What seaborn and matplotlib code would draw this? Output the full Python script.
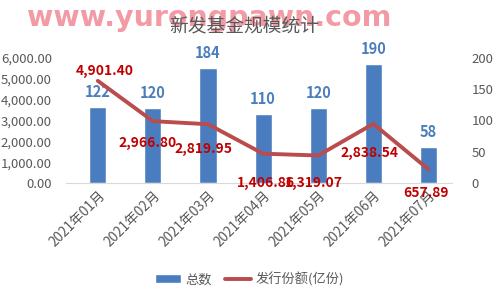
import matplotlib
matplotlib.use("Agg")
import matplotlib.pyplot as plt
import seaborn as sns
import pandas as pd
from matplotlib.ticker import FuncFormatter
from matplotlib.patches import Patch
from matplotlib.lines import Line2D

months = ["2021年01月", "2021年02月", "2021年03月", "2021年04月", "2021年05月", "2021年06月", "2021年07月"]
counts = [122, 120, 184, 110, 120, 190, 58]
shares = [4901.40, 2966.80, 2819.95, 1406.86, 1319.07, 2838.54, 657.89]

sns.set_style("white")
plt.rcParams['font.family'] = ['Noto Sans CJK SC', 'DejaVu Sans']

df = pd.DataFrame({"month": months, "count": counts, "share": shares})

fig = plt.figure(figsize=(4.99, 3.05), dpi=100)
ax = fig.add_axes([0.132, 0.40, 0.774, 0.41])

bar_color = "#4a7dbf"
line_color = "#b94c4c"
gray = "#595959"

sns.barplot(data=df, x="month", y="count", color=bar_color, width=0.31, ax=ax, saturation=1)
ax.set_ylim(0, 200)
ax.set_yticks([0, 50, 100, 150, 200])
ax.set_xlim(-0.58, 6.43)

ax2 = ax.twinx()
sns.lineplot(x=list(range(len(months))), y=shares, color=line_color, linewidth=2.8, ax=ax2)
ax2.set_ylim(0, 6000)
ax2.set_yticks([0, 1000, 2000, 3000, 4000, 5000, 6000])
ax2.yaxis.set_major_formatter(FuncFormatter(lambda v, p: f"{v:,.2f}"))

ax.yaxis.tick_right()
ax2.yaxis.tick_left()

for a in (ax, ax2):
    for s in a.spines.values():
        s.set_visible(False)
    a.set_xlabel("")
    a.set_ylabel("")
    a.tick_params(axis="both", length=0, colors=gray, labelsize=9.5)
ax.spines["bottom"].set_visible(True)
ax.spines["bottom"].set_color("#d9d9d9")
ax.tick_params(axis="y", pad=14, labelright=True, labelleft=False)
ax2.tick_params(axis="y", pad=10, labelleft=True, labelright=False)

ax.set_xticks(range(len(months)))
ax.set_xticklabels(months, rotation=45, ha="right", rotation_mode="anchor", fontsize=9.8, color=gray)

# bar labels
for i, c in enumerate(counts):
    ax.annotate(f"{c}", (i, c), xytext=(0, 5), textcoords="offset points",
                ha="center", va="bottom", color="#4a7ebb", fontsize=10.5, fontweight="bold")

# line labels (offsets in points)
offsets = [(5, 7), (-4, -16), (-3.5, -18), (2, -21), (-3, -20), (-3, -21), (-2, -17)]
for i, (v, off) in enumerate(zip(shares, offsets)):
    ax2.annotate(f"{v:,.2f}", (i, v), xytext=off, textcoords="offset points",
                 ha="center", va="center", color="#c00000", fontsize=10, fontweight="bold")

fig.text(0.42, 0.94, "www.yurongpawn.com", ha="center", va="center", fontsize=20.5,
         color="#f08a96", alpha=0.85, family="DejaVu Sans", fontweight="bold")
fig.text(0.489, 0.915, "新发基金规模统计", ha="center", va="center", fontsize=13.5, color=gray)

handles = [Patch(facecolor=bar_color, label="总数"),
           Line2D([0], [0], color=line_color, lw=2.8, label="发行份额(亿份)")]
fig.legend(handles=handles, loc="center", bbox_to_anchor=(0.5, 0.085), ncol=2, frameon=False,
           fontsize=9.5, labelcolor=gray, handlelength=2.0, handleheight=0.7, columnspacing=1.0,
           handletextpad=0.3)

fig.savefig("out.png", dpi=100)
